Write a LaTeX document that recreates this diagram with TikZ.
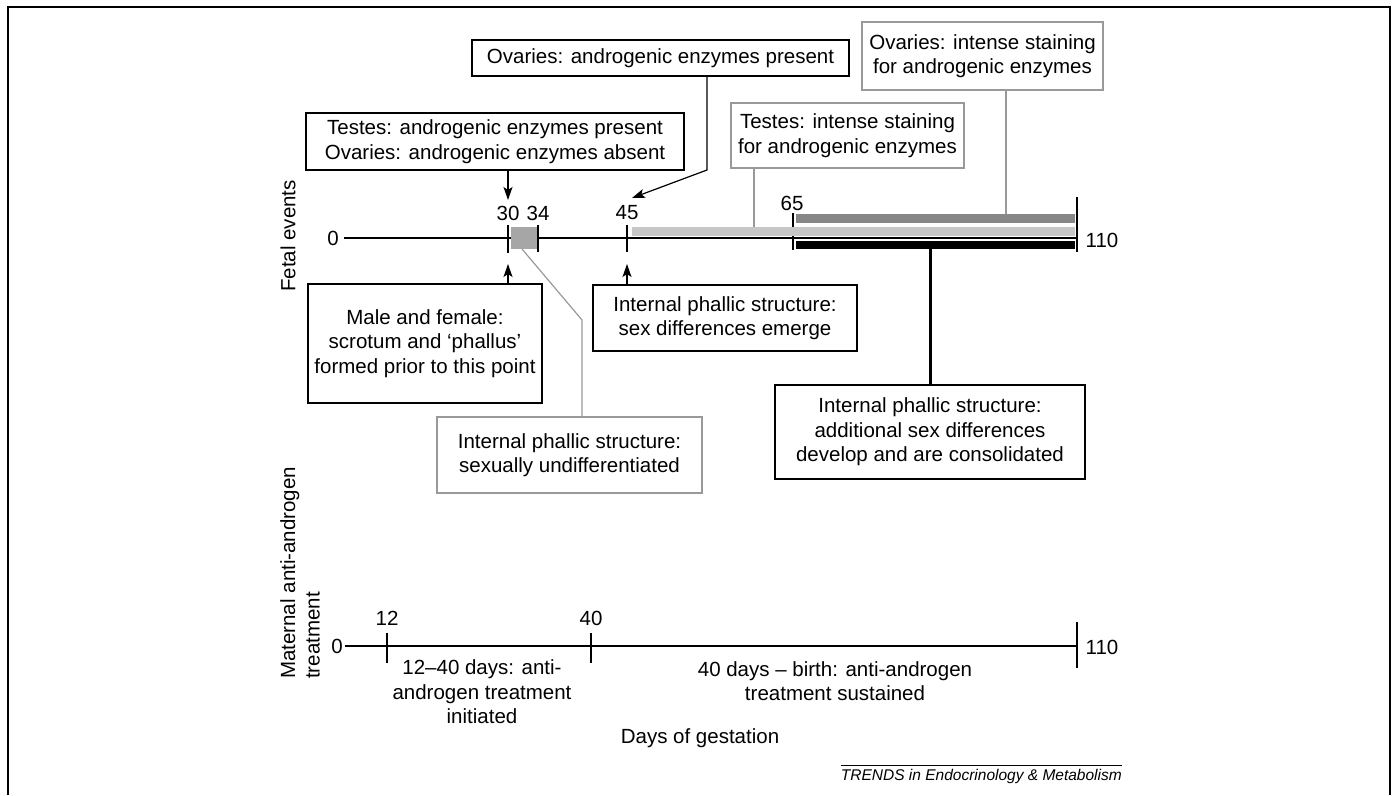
\documentclass[tikz,border=0pt]{standalone}
\usepackage{fontspec}
\setmainfont{Liberation Sans}
\usetikzlibrary{arrows.meta}

\begin{document}
\begin{tikzpicture}[x=1pt, y=-1pt,
    every node/.style={font=\fontsize{20.5}{24.5}\selectfont, inner sep=0pt},
    box/.style={draw, line width=1.2pt, align=center},
    graybox/.style={box, draw=black!40},
    arr/.style={-{Stealth[length=13pt,width=9pt,inset=3pt]}, line width=1.2pt},
    axis/.style={line width=1.2pt}]
  \useasboundingbox (0,0) rectangle (1396,795);
  \draw[line width=1.5pt] (8,795) -- (8,7) -- (1390,7) -- (1390,795);

  % fetal events
  \node[rotate=90] (fetal) at (288,236) {Fetal events};
  \node (f0) at (333,238) {0};
  \coordinate (f30) at (508,238);
  \coordinate (f34) at (538,238);
  \coordinate (f45) at (627,238);
  \coordinate (f65) at (793,238);
  \coordinate (f110) at (1077,238);
  \draw[axis] (f0.east) ++(5,0) -- (f110);
  \draw[axis] (508,225) -- (508,253);
  \draw[axis] (538,225) -- (538,252);
  \draw[axis] (627,225) -- (627,252);
  \draw[axis] (793,213) -- (793,250);
  \draw[axis] (1077,197) -- (1077,252);
  \node at (508,213) {30};
  \node at (538,213) {34};
  \node at (627,213) {45};
  \node at (792,203) {65};
  \node at (1102,240) {110};

  % bars
  \fill[black!35] (511,227) rectangle (537,249);
  \fill[black!22] (632,227) rectangle (1075,236);
  \fill[black!47] (796,214) rectangle (1075,223);
  \fill[black] (796,241) rectangle (1075,249);

  % boxes
  \node[box, minimum width=378pt, minimum height=57pt] (tpres) at (495,141.5)
    {Testes: androgenic enzymes present\\Ovaries: androgenic enzymes absent};
  \node[box, minimum width=377pt, minimum height=36pt] (opres) at (660.5,58)
    {Ovaries: androgenic enzymes present};
  \node[graybox, minimum width=241pt, minimum height=68pt] (ostain) at (982.5,56)
    {Ovaries: intense staining\\for androgenic enzymes};
  \node[graybox, minimum width=233pt, minimum height=65pt] (tstain) at (847.5,135.5)
    {Testes: intense staining\\for androgenic enzymes};
  \node[box, minimum width=234pt, minimum height=119pt] (male) at (425,343.5)
    {Male and female:\\scrotum and ‘phallus’\\formed prior to this point};
  \node[graybox, minimum width=265pt, minimum height=76pt] (undiff) at (569.5,455)
    {Internal phallic structure:\\sexually undifferentiated};
  \node[box, minimum width=264pt, minimum height=66pt] (emerge) at (725,318)
    {Internal phallic structure:\\sex differences emerge};
  \node[box, minimum width=310pt, minimum height=94pt] (consol) at (930,432)
    {Internal phallic structure:\\additional sex differences\\develop and are consolidated};

  % connectors
  \coordinate (a30) at (508,200);
  \coordinate (a45) at (632,198);
  \coordinate (b30) at (508,264);
  \coordinate (b45) at (627,264);
  \coordinate (bend) at (707,170);
  \coordinate (gbox) at (522,249);
  \coordinate (gbend) at (582,320);
  \draw[arr] (tpres.south -| a30) -- (a30);
  \draw[arr] (opres.south -| bend) -- (bend) -- (a45);
  \draw[arr] (male.north -| b30) -- (b30);
  \draw[arr] (emerge.north -| b45) -- (b45);
  \draw[line width=1.2pt, black!40] (gbox) -- (gbend) -- (undiff.north -| gbend);
  \draw[line width=1.2pt, black!40] (tstain.south -| 754,0) -- (754,227);
  \draw[line width=1.2pt, black!40] (ostain.south -| 1006,0) -- (1006,214);
  \draw[line width=3pt] (930,249) -- (consol.north -| 930,0);

  % maternal treatment
  \node[rotate=90, align=left, anchor=north west] (mat) at (280,679)
    {Maternal anti-androgen\\treatment};
  \node (m0) at (337,646) {0};
  \coordinate (m110) at (1077,646);
  \draw[axis] (m0.east) ++(2,0) -- (m110);
  \draw[axis] (387,633) -- (387,663);
  \draw[axis] (591,633) -- (591,663);
  \draw[axis] (1077,622) -- (1077,668);
  \node at (387,618) {12};
  \node at (591,618) {40};
  \node at (1102,647) {110};
  \node[align=center] (init) at (482,692)
    {12--40 days: anti-\\androgen treatment\\initiated};
  \node[align=center] (sust) at (835,681)
    {40 days -- birth: anti-androgen\\treatment sustained};

  \node (days) at (700,738) {Days of gestation};
  \node[anchor=east, font=\fontsize{15.5}{18}\selectfont\itshape] (trends) at (1122,776)
    {TRENDS in Endocrinology \& Metabolism};
  \draw[line width=0.8pt] (trends.north west) ++(0,-3) -- ([yshift=3pt]trends.north east);
\end{tikzpicture}
\end{document}
